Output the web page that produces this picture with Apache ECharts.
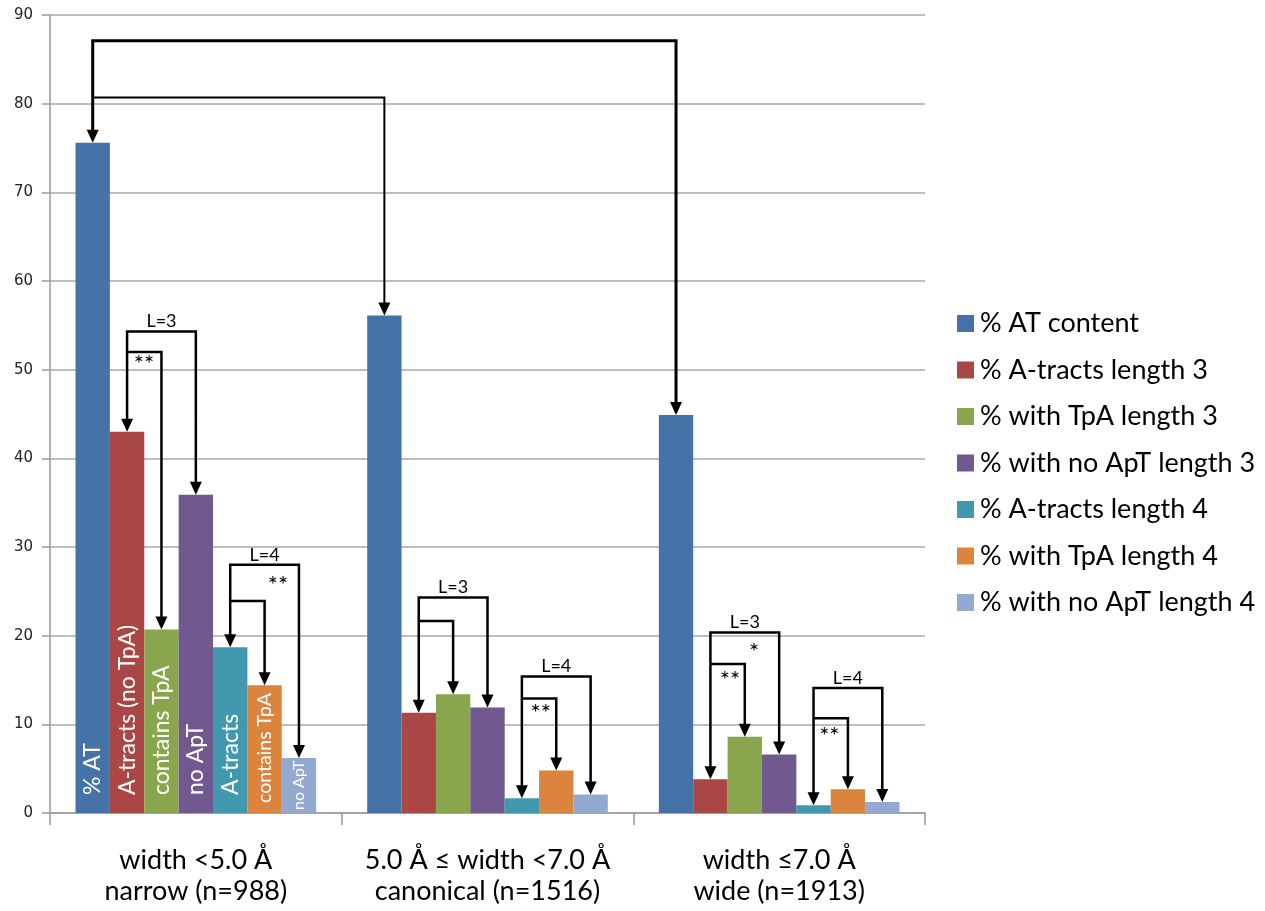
<!DOCTYPE html>
<html>
<head>
<meta charset="utf-8">
<title>A-tract content by minor groove width</title>
<script src="https://cdn.jsdelivr.net/npm/echarts@6/dist/echarts.min.js"></script>
<style>
  html, body { margin: 0; padding: 0; background: #fff; }
  #chart { width: 1265px; height: 911px; }
</style>
</head>
<body>
<div id="chart"></div>
<script>
// Groove-width classes along the x axis
const categories = [
  'width <5.0 Å\nnarrow (n=988)',
  '5.0 Å ≤ width <7.0 Å\ncanonical (n=1516)',
  'width ≤7.0 Å\nwide (n=1913)'
];

const seriesNames = [
  '% AT content',
  '% A-tracts length 3',
  '% with TpA length 3',
  '% with no ApT length 3',
  '% A-tracts length 4',
  '% with TpA length 4',
  '% with no ApT length 4'
];

// Percentages per class (narrow, canonical, wide)
const atContent   = [75.6, 56.1, 44.9];
const aTracts3    = [43.0, 11.3, 3.8];
const withTpA3    = [20.7, 13.4, 8.6];
const noApT3      = [35.9, 11.9, 6.6];
const aTracts4    = [18.7, 1.65, 0.87];
const withTpA4    = [14.4, 4.8, 2.67];
const noApT4      = [6.2, 2.1, 1.24];

const seriesValues = [atContent, aTracts3, withTpA3, noApT3, aTracts4, withTpA4, noApT4];

// Text written inside the narrow-class bars
const barTexts = ['% AT', 'A-tracts (no TpA)', 'contains TpA', 'no ApT', 'A-tracts', 'contains TpA', 'no ApT'];

const yTicks = { min: 0, max: 90, step: 10 };

// Comparison brackets: [fromClass, fromBar, toClass, toBar, level, arrowAtStart, label, kind]
const brackets = [
  [0, 0, 2, 0, 87.1, true,  '',    'main'],
  [0, 0, 1, 0, 80.7, false, '',    'thin'],
  [0, 1, 0, 3, 54.3, true,  'L=3', 'group'],
  [0, 1, 0, 2, 52.0, false, '',    'group'],
  [0, 4, 0, 6, 28.0, true,  'L=4', 'group'],
  [0, 4, 0, 5, 23.9, false, '',    'group'],
  [1, 1, 1, 3, 24.3, true,  'L=3', 'group'],
  [1, 1, 1, 2, 21.65, false, '',   'group'],
  [1, 4, 1, 6, 15.4, true,  'L=4', 'group'],
  [1, 4, 1, 5, 12.9, false, '',    'group'],
  [2, 1, 2, 3, 20.35, true, 'L=3', 'group'],
  [2, 1, 2, 2, 16.8, false, '',    'group'],
  [2, 4, 2, 6, 14.1, true,  'L=4', 'group'],
  [2, 4, 2, 5, 10.7, false, '',    'group']
];

// Significance marks: [class, bar position, value, text]
const marks = [
  [0, 1.49, 50.9, '**'],
  [0, 5.39, 26.05, '**'],
  [1, 4.55, 11.6, '**'],
  [2, 2.27, 18.5, '*'],
  [2, 1.57, 15.3, '**'],
  [2, 4.46, 9.0, '**']
];

const colors = ['#4572A7', '#AA4643', '#89A54E', '#71588F', '#4198AF', '#DB843D', '#93A9CF'];
const TEXT_FONT = 'Lato, "Open Sans", sans-serif';
const CATEGORY_GAP = 0.175;
const LINE_WIDTHS = { main: 3, thin: 2, group: 2.5 };
const HEAD_W = 12, HEAD_H = 13;

const insideLabelSizes = [23, 23, 23, 23, 23, 19.5, 16];
const insideLabelOffsets = [18, 18, 18, 18, 18, 10, 3];

function barLayout(api) {
  const band = api.size([1, 0])[0];
  const groupW = band * (1 - CATEGORY_GAP);
  const barW = groupW / seriesValues.length;
  return function (cat, bar) {
    return api.coord([cat, 0])[0] - groupW / 2 + (bar + 0.5) * barW;
  };
}

function renderBracket(params, api) {
  const b = brackets[params.dataIndex];
  const xOf = barLayout(api);
  const yOf = v => api.coord([0, v])[1];
  const lw = LINE_WIDTHS[b[7]];
  const x1 = xOf(b[0], b[1]);
  const x2 = xOf(b[2], b[3]);
  const yL = yOf(b[4]);
  const yTop1 = yOf(seriesValues[b[1]][b[0]]);
  const yTop2 = yOf(seriesValues[b[3]][b[2]]);
  const pts = [];
  if (b[5]) pts.push([x1, yTop1 - HEAD_H + 1]);
  pts.push([x1, yL], [x2, yL], [x2, yTop2 - HEAD_H + 1]);
  const children = [{
    type: 'polyline',
    shape: { points: pts },
    style: { stroke: '#000', lineWidth: lw, fill: null, lineJoin: 'miter', lineCap: 'butt' }
  }];
  const head = (x, y) => ({
    type: 'polygon',
    shape: { points: [[x, y], [x - HEAD_W / 2, y - HEAD_H], [x + HEAD_W / 2, y - HEAD_H]] },
    style: { fill: '#000' }
  });
  if (b[5]) children.push(head(x1, yTop1));
  children.push(head(x2, yTop2));
  if (b[6]) {
    children.push({
      type: 'text',
      style: {
        text: b[6], x: (x1 + x2) / 2, y: yL - 1,
        align: 'center', verticalAlign: 'bottom',
        font: '18px ' + TEXT_FONT, fill: '#000'
      }
    });
  }
  return { type: 'group', children };
}

function renderMark(params, api) {
  const m = marks[params.dataIndex];
  const xOf = barLayout(api);
  const y = api.coord([0, m[2]])[1];
  return {
    type: 'text',
    style: {
      text: m[3], x: xOf(m[0], m[1]), y: y + 3,
      align: 'center', verticalAlign: 'middle',
      font: '24px ' + TEXT_FONT, fill: '#000'
    }
  };
}

const barSeries = seriesNames.map((name, i) => ({
  name,
  type: 'bar',
  barGap: '0%',
  barCategoryGap: (CATEGORY_GAP * 100) + '%',
  itemStyle: { color: colors[i] },
  emphasis: { disabled: true },
  data: seriesValues[i].map((v, c) => c === 0 ? {
    value: v,
    label: {
      show: true,
      formatter: barTexts[i],
      position: 'insideBottom',
      rotate: 90,
      align: 'left',
      verticalAlign: 'middle',
      distance: insideLabelOffsets[i],
      color: '#fff',
      fontFamily: TEXT_FONT,
      fontSize: insideLabelSizes[i],
      overflow: 'none',
      width: 400
    }
  } : v)
}));

const chart = echarts.init(document.getElementById('chart'), null, { renderer: 'canvas' });

chart.setOption({
  animation: false,
  color: colors,
  grid: { left: 50, right: 340, top: 15, bottom: 98, containLabel: false, outerBoundsMode: 'none' },
  legend: {
    data: seriesNames,
    orient: 'vertical',
    left: 952,
    top: 305,
    icon: 'rect',
    itemWidth: 17,
    itemHeight: 17,
    itemGap: 19.5,
    textStyle: { fontFamily: TEXT_FONT, fontSize: 27, color: '#000', lineHeight: 24, padding: [0, 0, 0, 1] },
    selectedMode: false
  },
  xAxis: {
    type: 'category',
    data: categories,
    axisLine: { show: true, lineStyle: { color: '#9a9a9a', width: 1.5 } },
    axisTick: { show: true, alignWithLabel: false, length: 12, lineStyle: { color: '#9a9a9a', width: 1.5 } },
    axisLabel: {
      interval: 0, margin: 32, color: '#000',
      fontFamily: TEXT_FONT, fontSize: 27, lineHeight: 31, align: 'center'
    },
    splitLine: { show: false }
  },
  yAxis: {
    type: 'value',
    min: yTicks.min,
    max: yTicks.max,
    interval: yTicks.step,
    axisLine: { show: true, lineStyle: { color: '#9a9a9a', width: 1.5 } },
    axisTick: { show: true, length: 8, lineStyle: { color: '#9a9a9a', width: 1.5 } },
    axisLabel: { margin: 17, color: '#222', fontFamily: '"DejaVu Sans", sans-serif', fontSize: 15 },
    splitLine: { show: true, lineStyle: { color: '#a8a8a8', width: 1.5 } }
  },
  series: barSeries.concat([
    {
      type: 'custom',
      name: 'brackets',
      silent: true,
      z: 5,
      clip: false,
      renderItem: renderBracket,
      data: brackets.map(b => [b[0], b[4]])
    },
    {
      type: 'custom',
      name: 'marks',
      silent: true,
      z: 5,
      clip: false,
      renderItem: renderMark,
      data: marks.map(m => [m[0], m[2]])
    }
  ])
});
</script>
</body>
</html>
